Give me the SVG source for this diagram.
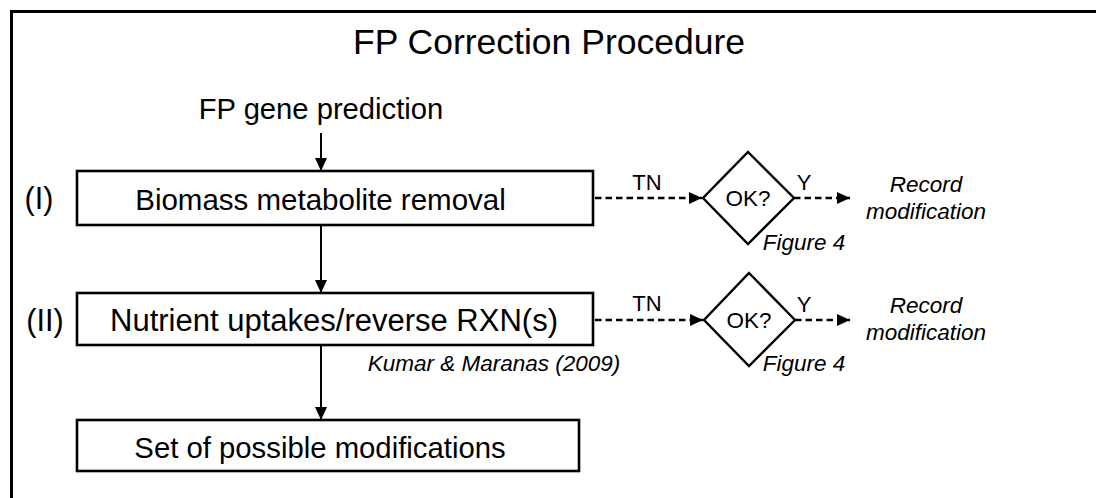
<svg xmlns="http://www.w3.org/2000/svg" width="1096" height="498" viewBox="0 0 1096 498">
<defs>
<marker id="ah" markerUnits="userSpaceOnUse" markerWidth="14" markerHeight="12" refX="13" refY="6" orient="auto">
<path d="M0,0 L13,6 L0,12 Z" fill="#000"/>
</marker>
<style>
.t{font-family:"Liberation Sans",Arial,sans-serif;fill:#000}
.box{fill:#fff;stroke:#000;stroke-width:2.6}
.dia{fill:#fff;stroke:#000;stroke-width:2.4}
.solid{stroke:#000;stroke-width:2;fill:none}
.dash{stroke:#000;stroke-width:2.4;fill:none;stroke-dasharray:6.5 4}
.it{font-style:italic}
</style>
</defs>
<rect width="1096" height="498" fill="#fff"/>
<rect x="11.5" y="11.5" width="1100" height="500" fill="none" stroke="#000" stroke-width="3"/>
<text class="t" x="549" y="54" font-size="35.5" text-anchor="middle">FP Correction Procedure</text>
<g id="start"><text class="t" x="321" y="119" font-size="29.2" text-anchor="middle">FP gene prediction</text></g>
<g id="connectors">
<line class="solid" x1="321" y1="133" x2="321" y2="171" marker-end="url(#ah)"/>
<line class="solid" x1="321" y1="225" x2="321" y2="293" marker-end="url(#ah)"/>
<line class="solid" x1="321" y1="345" x2="321" y2="420" marker-end="url(#ah)"/>
<line class="dash" x1="595" y1="198" x2="702" y2="198" marker-end="url(#ah)"/>
<line class="dash" x1="794" y1="198" x2="850" y2="198" marker-end="url(#ah)"/>
<line class="dash" x1="595" y1="320" x2="703" y2="320" marker-end="url(#ah)"/>
<line class="dash" x1="795" y1="320" x2="850" y2="320" marker-end="url(#ah)"/>
<text class="t" x="647" y="190" font-size="22" text-anchor="middle">TN</text>
<text class="t" x="804" y="190" font-size="22" text-anchor="middle">Y</text>
<text class="t" x="647" y="311" font-size="22" text-anchor="middle">TN</text>
<text class="t" x="804" y="312" font-size="22" text-anchor="middle">Y</text>
<text class="t it" x="494" y="371" font-size="22.5" text-anchor="middle">Kumar &amp; Maranas (2009)</text>
</g>
<g id="step1">
<text class="t" x="39" y="209" font-size="30.5" text-anchor="middle">(I)</text>
<rect class="box" x="77" y="171" width="516" height="54"/>
<text class="t" x="320.5" y="210" font-size="29.5" text-anchor="middle">Biomass metabolite removal</text>
</g>
<g id="step2">
<text class="t" x="45" y="331" font-size="30.5" text-anchor="middle">(II)</text>
<rect class="box" x="77" y="293" width="516" height="52"/>
<text class="t" x="334" y="331" font-size="31" text-anchor="middle">Nutrient uptakes/reverse RXN(s)</text>
</g>
<g id="result">
<rect class="box" x="77" y="420" width="502" height="51"/>
<text class="t" x="320" y="458" font-size="29.3" text-anchor="middle">Set of possible modifications</text>
</g>
<g id="check1">
<path class="dia" d="M748,152 L794,198 L748,244 L703,198 Z"/>
<text class="t" x="748" y="206" font-size="22.5" text-anchor="middle">OK?</text>
<text class="t it" x="804" y="250" font-size="22.5" text-anchor="middle">Figure 4</text>
</g>
<g id="record1">
<text class="t it" x="926" y="192" font-size="22.5" text-anchor="middle">Record</text>
<text class="t it" x="926" y="219" font-size="22.5" text-anchor="middle">modification</text>
</g>
<g id="check2">
<path class="dia" d="M749,273 L795,320 L749,366 L704,320 Z"/>
<text class="t" x="749" y="328" font-size="22.5" text-anchor="middle">OK?</text>
<text class="t it" x="804" y="371" font-size="22.5" text-anchor="middle">Figure 4</text>
</g>
<g id="record2">
<text class="t it" x="926" y="313" font-size="22.5" text-anchor="middle">Record</text>
<text class="t it" x="926" y="340" font-size="22.5" text-anchor="middle">modification</text>
</g>
</svg>
